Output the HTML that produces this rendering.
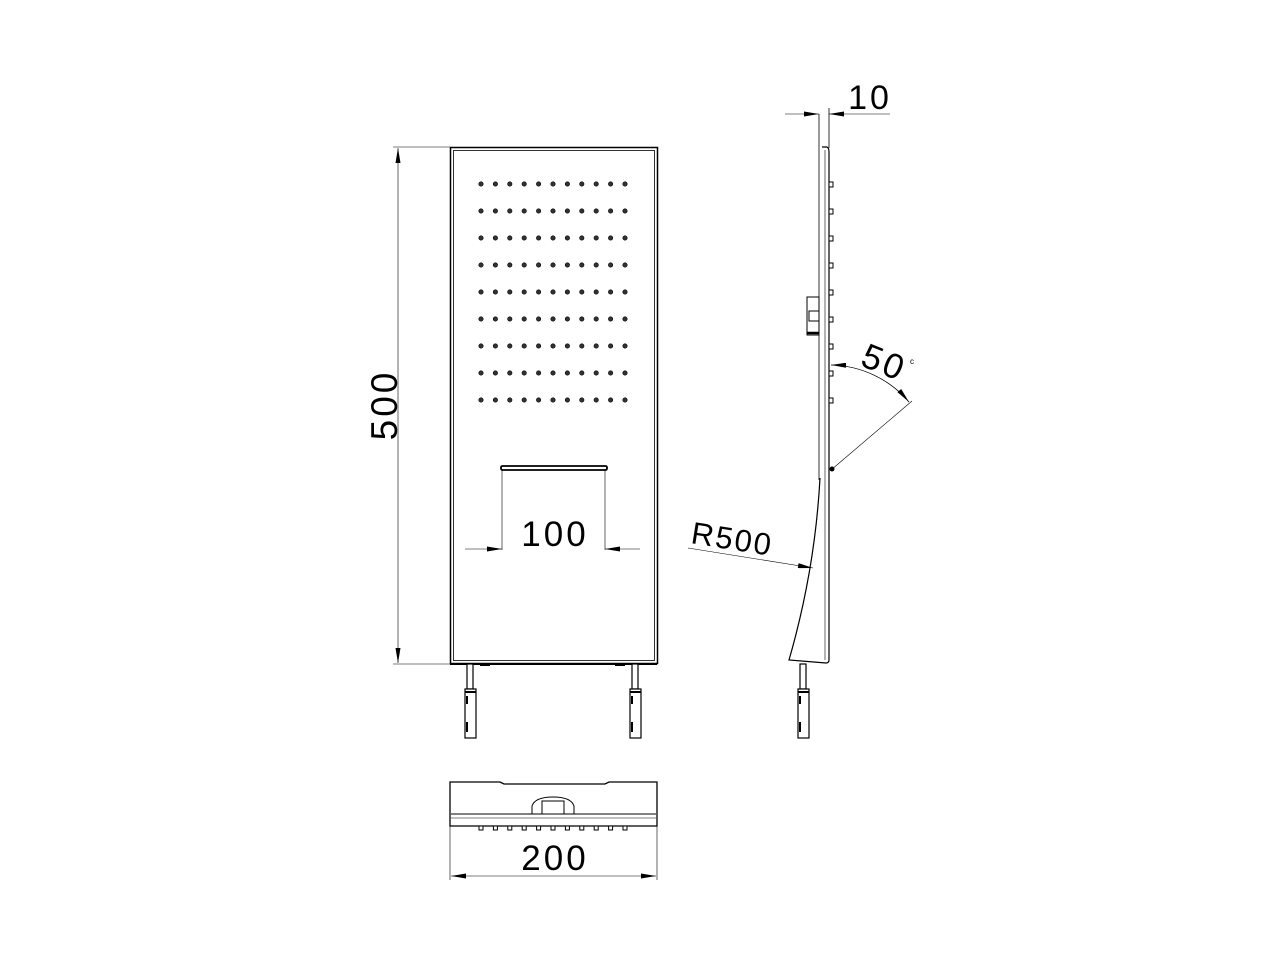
<!DOCTYPE html>
<html><head><meta charset="utf-8"><style>html,body{margin:0;padding:0;background:#fff}svg{display:block}text{font-family:"Liberation Sans",sans-serif;fill:#000}</style></head>
<body>
<svg width="1280" height="960" viewBox="0 0 1280 960" xmlns="http://www.w3.org/2000/svg">
<defs>
<marker id="a" viewBox="0 0 12 4" refX="12" refY="2" markerWidth="16" markerHeight="5" orient="auto" markerUnits="userSpaceOnUse"><path d="M0,0 L12,2 L0,4z" fill="#000"/></marker>
<g id="row"><circle cx="481" cy="0" r="2.2"/><circle cx="495.4" cy="0" r="2.2"/><circle cx="509.8" cy="0" r="2.2"/><circle cx="524.2" cy="0" r="2.2"/><circle cx="538.6" cy="0" r="2.2"/><circle cx="553" cy="0" r="2.2"/><circle cx="567.4" cy="0" r="2.2"/><circle cx="581.8" cy="0" r="2.2"/><circle cx="596.2" cy="0" r="2.2"/><circle cx="610.6" cy="0" r="2.2"/><circle cx="625" cy="0" r="2.2"/></g>
</defs>
<g stroke="#000" fill="none" stroke-width="1">
<rect x="450.5" y="147.5" width="207" height="516" stroke-width="1.5"/>
<rect x="453.5" y="150.5" width="201" height="510" stroke-width="0.8"/>
<line x1="450" y1="664" x2="657" y2="664" stroke-width="2"/>
<rect x="501" y="466" width="106" height="4" rx="1.5" stroke-width="1.8"/>
<line x1="502" y1="470" x2="502" y2="550" stroke-width="0.6"/>
<line x1="605" y1="470" x2="605" y2="550" stroke-width="0.6"/>
<line x1="465" y1="549" x2="502" y2="549" stroke-width="0.6" marker-end="url(#a)"/>
<line x1="640" y1="549" x2="605" y2="549" stroke-width="0.6" marker-end="url(#a)"/>
<line x1="393" y1="147" x2="450" y2="147" stroke-width="0.6"/>
<line x1="393" y1="664" x2="450" y2="664" stroke-width="0.6"/>
<line x1="398" y1="405" x2="398" y2="148" stroke-width="0.6" marker-end="url(#a)"/>
<line x1="398" y1="405" x2="398" y2="663" stroke-width="0.6" marker-end="url(#a)"/>
<g stroke-width="1.2" fill="#fff">
<rect x="467" y="664" width="6" height="25"/><rect x="465" y="689" width="11" height="49"/>
<rect x="632" y="664" width="6" height="25"/><rect x="630" y="689" width="11" height="49"/>
<rect x="800" y="664" width="6" height="25"/><rect x="798" y="689" width="11" height="49"/>
</g>
<g stroke-width="2">
<line x1="465" y1="692" x2="476" y2="692"/><line x1="630" y1="692" x2="641" y2="692"/><line x1="798" y1="692" x2="809" y2="692"/>
<line x1="480" y1="665" x2="490" y2="665"/><line x1="615" y1="665" x2="625" y2="665"/>
<line x1="467" y1="696" x2="467" y2="704"/><line x1="467" y1="722" x2="467" y2="732"/><line x1="632" y1="696" x2="632" y2="704"/><line x1="632" y1="722" x2="632" y2="732"/><line x1="800" y1="696" x2="800" y2="704"/><line x1="800" y1="722" x2="800" y2="732"/>
</g>
<line x1="819" y1="114" x2="819" y2="480" stroke-width="0.8"/>
<path d="M822,147 L827,147 Q829,148 829,152 L829,660 Q829,663 826,663" stroke-width="1.2"/>
<line x1="825" y1="150" x2="825" y2="660" stroke-width="0.6"/>
<line x1="829" y1="108" x2="829" y2="148" stroke-width="0.8"/>
<line x1="785" y1="114" x2="819" y2="114" stroke-width="0.6" marker-end="url(#a)"/>
<line x1="890" y1="114" x2="829" y2="114" stroke-width="0.6" marker-end="url(#a)"/>
<path d="M820,478 Q815,570 789,660 L826,663" stroke-width="1.2"/>
<rect x="807" y="297" width="12" height="38" stroke-width="1"/>
<rect x="809" y="311" width="10" height="10" stroke-width="1"/>
<line x1="807" y1="333" x2="819" y2="333" stroke-width="2.5"/>
<line x1="831" y1="470" x2="912" y2="401" stroke-width="0.6"/>
<path d="M831,365 A105,105 0 0 1 909,402" stroke-width="0.6" marker-end="url(#a)"/>
<path d="M909,402 A105,105 0 0 0 831,365" stroke-width="0.6" marker-end="url(#a)"/>
<circle cx="832" cy="469" r="2" fill="#000"/>
<line x1="688" y1="548" x2="813" y2="568" stroke-width="0.6" marker-end="url(#a)"/>
<path d="M450,782 L500,782 L504,784 L605,784 L609,782 L657,782 L657,826 L450,826 Z" stroke-width="1.3"/>
<line x1="451" y1="814" x2="656" y2="814" stroke-width="1"/>
<line x1="451" y1="818" x2="656" y2="818" stroke-width="0.6"/>
<path d="M532,814 L532,806 Q535,797 553,797 Q571,797 574,806 L574,814" stroke-width="1"/>
<rect x="542" y="801" width="22" height="13" stroke-width="1"/>
<line x1="450" y1="826" x2="450" y2="880" stroke-width="0.6"/>
<line x1="657" y1="826" x2="657" y2="880" stroke-width="0.6"/>
<line x1="553" y1="876" x2="451" y2="876" stroke-width="0.6" marker-end="url(#a)"/>
<line x1="553" y1="876" x2="656" y2="876" stroke-width="0.6" marker-end="url(#a)"/>
</g>
<g fill="#333" stroke="#000" stroke-width="0.6">
<use href="#row" y="184"/><use href="#row" y="211"/><use href="#row" y="238"/><use href="#row" y="265"/><use href="#row" y="292"/><use href="#row" y="319"/><use href="#row" y="346"/><use href="#row" y="373"/><use href="#row" y="400"/>
</g>
<g fill="#fff" stroke="#000" stroke-width="1">
<rect x="829" y="182" width="4" height="5"/><rect x="829" y="209" width="4" height="5"/><rect x="829" y="236" width="4" height="5"/><rect x="829" y="263" width="4" height="5"/><rect x="829" y="290" width="4" height="5"/><rect x="829" y="317" width="4" height="5"/><rect x="829" y="344" width="4" height="5"/><rect x="829" y="371" width="4" height="5"/><rect x="829" y="398" width="4" height="5"/>
</g>
<g fill="#fff" stroke="#000" stroke-width="1">
<rect x="479" y="826" width="4" height="4"/><rect x="493.4" y="826" width="4" height="4"/><rect x="507.8" y="826" width="4" height="4"/><rect x="522.2" y="826" width="4" height="4"/><rect x="536.6" y="826" width="4" height="4"/><rect x="551" y="826" width="4" height="4"/><rect x="565.4" y="826" width="4" height="4"/><rect x="579.8" y="826" width="4" height="4"/><rect x="594.2" y="826" width="4" height="4"/><rect x="608.6" y="826" width="4" height="4"/><rect x="623" y="826" width="4" height="4"/>
</g>
<text x="555" y="546" font-size="35" text-anchor="middle" letter-spacing="3">100</text>
<text x="555" y="870" font-size="35" text-anchor="middle" letter-spacing="3">200</text>
<text x="870" y="109" font-size="34" text-anchor="middle" letter-spacing="3">10</text>
<text transform="translate(397,405) rotate(-90)" font-size="37" text-anchor="middle" letter-spacing="3">500</text>
<text transform="translate(859,365) rotate(22)" font-size="35" letter-spacing="3">50</text>
<text x="910" y="364" font-size="8">c</text>
<text transform="translate(690,543) rotate(9)" font-size="31" letter-spacing="2">R500</text>
</svg>
</body></html>
